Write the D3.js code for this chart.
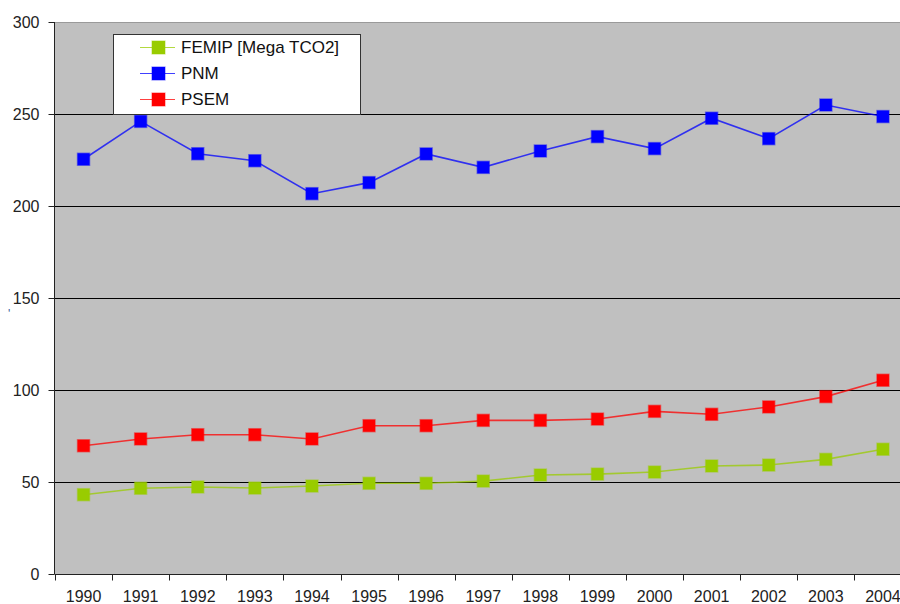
<!DOCTYPE html>
<html>
<head>
<meta charset="utf-8">
<script src="https://cdn.jsdelivr.net/npm/d3@7"></script>
<style>
  html, body { margin: 0; padding: 0; background: #fff; }
  svg { display: block; font-family: "Liberation Sans", Arial, sans-serif; }
</style>
</head>
<body>
<svg id="chart" width="900" height="604"></svg>
<script>
// Emissions by region, 1990–2004
const years = ["1990","1991","1992","1993","1994","1995","1996","1997","1998","1999","2000","2001","2002","2003","2004"];
const femip = [43.1, 46.6, 47.3, 46.7, 47.8, 49.3, 49.3, 50.5, 53.8, 54.3, 55.4, 58.7, 59.2, 62.3, 67.8];
const pnm   = [225.4, 246.0, 228.4, 224.6, 206.7, 212.7, 228.3, 221.0, 229.9, 237.7, 231.2, 247.7, 236.6, 254.9, 248.6];
const psem  = [69.7, 73.4, 75.7, 75.7, 73.4, 80.6, 80.6, 83.5, 83.5, 84.2, 88.4, 86.8, 90.8, 96.4, 105.3];
const seriesNames  = ["FEMIP [Mega TCO2]", "PNM", "PSEM"];
const seriesColors = ["#99CC00", "#0000FF", "#FF0000"];
const yTicks = [0, 50, 100, 150, 200, 250, 300];

(function () {
  const series = [femip, pnm, psem].map((values, i) => ({
    name: seriesNames[i], color: seriesColors[i], values
  }));

  const svg = d3.select("#chart");
  const plotLeft = 55, plotTop = 22, plotBottom = 574;
  const bandW = 57.1;
  const plotRight = plotLeft + bandW * years.length;

  const x = d3.scaleBand().domain(years).range([plotLeft, plotRight]);
  const y = d3.scaleLinear().domain([0, 300]).range([plotBottom, plotTop]);

  // plot background
  svg.append("rect")
    .attr("x", plotLeft).attr("y", plotTop)
    .attr("width", plotRight - plotLeft).attr("height", plotBottom - plotTop)
    .attr("fill", "#C0C0C0");
  svg.append("line")
    .attr("x1", plotLeft).attr("x2", plotRight)
    .attr("y1", plotTop + 0.5).attr("y2", plotTop + 0.5)
    .attr("stroke", "#9a9a9a");

  // horizontal gridlines
  svg.append("g").selectAll("line")
    .data(yTicks.filter(t => t > 0 && t < 300))
    .join("line")
    .attr("x1", plotLeft).attr("x2", plotRight)
    .attr("y1", d => Math.round(y(d)) + 0.5).attr("y2", d => Math.round(y(d)) + 0.5)
    .attr("stroke", "#000").attr("stroke-width", 1);

  // y axis
  const yAxis = svg.append("g")
    .attr("transform", `translate(${plotLeft - 0.5},0)`)
    .call(d3.axisLeft(y).tickValues(yTicks).tickSize(6).tickPadding(9));
  yAxis.select(".domain").attr("stroke", "#222").attr("d", `M0,${plotTop}V${plotBottom}`);
  yAxis.selectAll(".tick line").attr("stroke", "#222");
  yAxis.selectAll(".tick text")
    .attr("font-size", 16).attr("fill", "#222")
    .attr("font-family", "Liberation Sans, Arial, sans-serif");

  // x axis with ticks at category boundaries
  const xAxisG = svg.append("g").attr("transform", `translate(0,${plotBottom + 0.5})`);
  xAxisG.append("line")
    .attr("x1", plotLeft - 0.5).attr("x2", plotRight)
    .attr("stroke", "#222");
  xAxisG.selectAll("line.tk")
    .data(years)
    .join("line").attr("class", "tk")
    .attr("x1", d => Math.round(x(d)) + 0.5).attr("x2", d => Math.round(x(d)) + 0.5)
    .attr("y1", 0).attr("y2", 6)
    .attr("stroke", "#222");
  xAxisG.selectAll("text")
    .data(years)
    .join("text")
    .attr("x", d => x(d) + x.bandwidth() / 2)
    .attr("y", 27)
    .attr("text-anchor", "middle")
    .attr("font-size", 16).attr("fill", "#222")
    .text(d => d);

  // small y-axis title glyph
  svg.append("text")
    .attr("x", 8).attr("y", 318)
    .attr("font-size", 12).attr("fill", "#3c5a99")
    .text("'");

  // series lines and markers
  const line = d3.line()
    .x((d, i) => x(years[i]) + x.bandwidth() / 2)
    .y(d => y(d));

  const ms = 12;
  series.forEach(s => {
    const g = svg.append("g");
    g.append("path")
      .datum(s.values)
      .attr("d", line)
      .attr("fill", "none")
      .attr("stroke", s.color)
      .attr("stroke-opacity", 0.75)
      .attr("stroke-width", 1.6);
    g.selectAll("rect")
      .data(s.values)
      .join("rect")
      .attr("x", (d, i) => x(years[i]) + x.bandwidth() / 2 - ms / 2)
      .attr("y", d => y(d) - ms / 2)
      .attr("width", ms).attr("height", ms)
      .attr("fill", s.color)
      .attr("stroke", s.color).attr("stroke-opacity", 0.45).attr("stroke-width", 1.5);
  });

  // legend
  const lg = svg.append("g");
  lg.append("rect")
    .attr("x", 113.5).attr("y", 34.5)
    .attr("width", 247).attr("height", 80)
    .attr("fill", "#fff")
    .attr("stroke", "#333").attr("stroke-width", 1);
  series.forEach((s, i) => {
    const cy = 47 + i * 26;
    lg.append("line")
      .attr("x1", 140).attr("x2", 175)
      .attr("y1", cy + 0.5).attr("y2", cy + 0.5)
      .attr("stroke", s.color).attr("stroke-opacity", 0.75).attr("stroke-width", 1.2);
    lg.append("rect")
      .attr("x", 152).attr("y", cy - 6)
      .attr("width", 13).attr("height", 13)
      .attr("fill", s.color)
      .attr("stroke", s.color).attr("stroke-opacity", 0.45).attr("stroke-width", 1.2);
    lg.append("text")
      .attr("x", 181).attr("y", cy + 6)
      .attr("font-size", 17).attr("fill", "#111")
      .text(s.name);
  });
})();
</script>
</body>
</html>
